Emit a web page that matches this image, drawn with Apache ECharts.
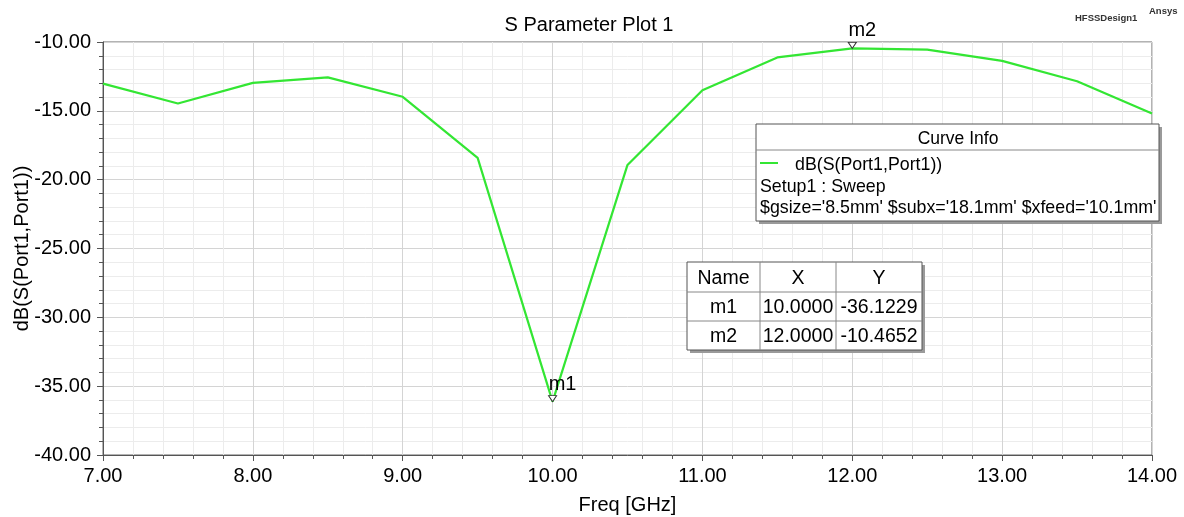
<!DOCTYPE html>
<html><head><meta charset="utf-8">
<script src="https://cdn.jsdelivr.net/npm/echarts@6/dist/echarts.min.js"></script>
<style>html,body{margin:0;padding:0;background:#fff}#c{width:1184px;height:517px}</style>
</head><body><div id="c"></div>
<script>
const freq = [7.0, 7.5, 8.0, 8.5, 9.0, 9.5, 10.0, 10.5, 11.0, 11.5, 12.0, 12.5, 13.0, 13.5, 14.0];
const s11 = [-13.02, -14.47, -12.97, -12.57, -13.98, -18.42, -36.1229, -18.93, -13.50, -11.12, -10.4652, -10.55, -11.37, -12.85, -15.20];
const markerNames = ['m1', 'm2'];
const markerX = [10.0, 12.0];
const markerY = [-36.1229, -10.4652];
const curveName = 'dB(S(Port1,Port1))';
const curveLines = ['Setup1 : Sweep', "$gsize='8.5mm' $subx='18.1mm' $xfeed='10.1mm'"];

const FONT = '"Liberation Sans", Arial, sans-serif';
const chart = echarts.init(document.getElementById('c'));

const tbl = {x: 687, y: 262, cols: [0, 73, 149, 235], rowH: 29};
const tableEls = [];
tableEls.push({type: 'rect', shape: {x: tbl.x + 3, y: tbl.y + 3, width: 235, height: 88}, style: {fill: '#9a9a9a'}, z: 10});
tableEls.push({type: 'rect', shape: {x: tbl.x, y: tbl.y, width: 235, height: 88}, style: {fill: '#fff', stroke: '#555', lineWidth: 1}, z: 11});
[1, 2].forEach(i => tableEls.push({type: 'line', shape: {x1: tbl.x, y1: tbl.y + i * tbl.rowH + 1, x2: tbl.x + 235, y2: tbl.y + i * tbl.rowH + 1}, style: {stroke: '#888', lineWidth: 1}, z: 12}));
[1, 2].forEach(i => tableEls.push({type: 'line', shape: {x1: tbl.x + tbl.cols[i], y1: tbl.y, x2: tbl.x + tbl.cols[i], y2: tbl.y + 88}, style: {stroke: '#888', lineWidth: 1}, z: 12}));
const rows = [['Name', 'X', 'Y']].concat(markerNames.map((n, i) => [n, markerX[i].toFixed(4), markerY[i].toFixed(4)]));
rows.forEach((r, ri) => r.forEach((t, ci) => tableEls.push({
  type: 'text', z: 13,
  style: {text: t, x: tbl.x + (tbl.cols[ci] + tbl.cols[ci + 1]) / 2, y: tbl.y + ri * tbl.rowH + tbl.rowH / 2 + 2,
    align: 'center', verticalAlign: 'middle', font: '19.5px ' + FONT, fill: '#000'}
})));

const legendEls = [
  {type: 'rect', shape: {x: 759, y: 127, width: 403, height: 97}, style: {fill: '#9a9a9a'}, z: 10},
  {type: 'rect', shape: {x: 756, y: 124, width: 403, height: 97}, style: {fill: '#fff', stroke: '#555', lineWidth: 1}, z: 11},
  {type: 'line', shape: {x1: 756, y1: 150, x2: 1159, y2: 150}, style: {stroke: '#888', lineWidth: 1}, z: 12},
  {type: 'text', z: 13, style: {text: 'Curve Info', x: 958, y: 139, align: 'center', verticalAlign: 'middle', font: '17.5px ' + FONT, fill: '#000'}},
  {type: 'line', shape: {x1: 760, y1: 163, x2: 778, y2: 163}, style: {stroke: '#33e633', lineWidth: 2}, z: 12},
  {type: 'text', z: 13, style: {text: curveName, x: 795, y: 165, verticalAlign: 'middle', font: '17.8px ' + FONT, fill: '#000'}},
  {type: 'text', z: 13, style: {text: curveLines[0], x: 760, y: 187, verticalAlign: 'middle', font: '17.8px ' + FONT, fill: '#000'}},
  {type: 'text', z: 13, style: {text: curveLines[1], x: 760, y: 208, verticalAlign: 'middle', font: '17.8px ' + FONT, fill: '#000'}}
];

const option = {
  animation: false,
  backgroundColor: '#fff',
  title: {text: 'S Parameter Plot 1', left: 584, textAlign: 'center', top: 10,
    textStyle: {fontFamily: FONT, fontSize: 20, fontWeight: 'normal', color: '#000'}},
  grid: {left: 103, right: 32, top: 42, bottom: 62, show: true, borderColor: '#666', borderWidth: 1, backgroundColor: 'transparent',
    containLabel: false, outerBoundsMode: 'none'},
  xAxis: {
    type: 'value', min: 7, max: 14, interval: 1,
    name: 'Freq [GHz]', nameLocation: 'middle', nameGap: 40, nameMoveOverlap: false,
    nameTextStyle: {fontFamily: FONT, fontSize: 20, color: '#000'},
    axisLine: {lineStyle: {color: '#555'}},
    axisTick: {show: true, length: 6, lineStyle: {color: '#555'}},
    minorTick: {show: true, splitNumber: 5, length: 4, lineStyle: {color: '#555'}},
    axisLabel: {formatter: v => v.toFixed(2), fontFamily: FONT, fontSize: 20, color: '#000', margin: 11},
    splitLine: {show: true, lineStyle: {color: '#d4d4d4'}},
    minorSplitLine: {show: true, lineStyle: {color: '#ececec'}}
  },
  yAxis: {
    type: 'value', min: -40, max: -10, interval: 5,
    name: 'dB(S(Port1,Port1))', nameLocation: 'middle', nameGap: 71, nameMoveOverlap: false,
    nameTextStyle: {fontFamily: FONT, fontSize: 20, color: '#000'},
    axisLine: {show: true, lineStyle: {color: '#555'}},
    axisTick: {show: true, length: 6, lineStyle: {color: '#555'}},
    minorTick: {show: true, splitNumber: 5, length: 4, lineStyle: {color: '#555'}},
    axisLabel: {formatter: v => v.toFixed(2), fontFamily: FONT, fontSize: 20, color: '#000', margin: 12, padding: [4, 0, 0, 0]},
    splitLine: {show: true, lineStyle: {color: '#d4d4d4'}},
    minorSplitLine: {show: true, lineStyle: {color: '#ececec'}}
  },
  series: [{
    type: 'line', data: freq.map((f, i) => [f, s11[i]]),
    showSymbol: false, lineStyle: {color: '#33e633', width: 2.2}, itemStyle: {color: '#33e633'},
    markPoint: {
      symbol: 'triangle', symbolSize: [8, 6], symbolRotate: 180, symbolOffset: [0, -3],
      itemStyle: {color: '#fff', borderColor: '#333', borderWidth: 1},
      label: {show: true, position: 'top', offset: [10, 4], formatter: p => p.name, fontFamily: FONT, fontSize: 20, color: '#000'},
      data: markerNames.map((n, i) => ({name: n, coord: [markerX[i], markerY[i]]}))
    }
  }],
  graphic: [
    {type: 'text', style: {text: 'HFSSDesign1', x: 1075, y: 18, verticalAlign: 'middle', font: 'bold 9.5px ' + FONT, fill: '#333'}},
    {type: 'text', style: {text: 'Ansys', x: 1149, y: 11, verticalAlign: 'middle', font: 'bold 9.5px ' + FONT, fill: '#333'}}
  ].concat(legendEls, tableEls)
};
chart.setOption(option);
</script></body></html>
